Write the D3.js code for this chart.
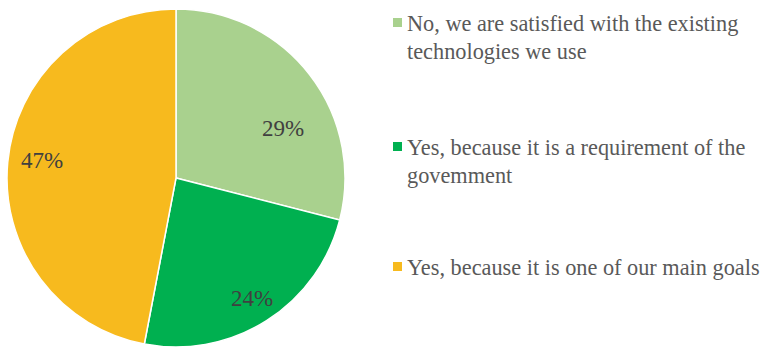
<!DOCTYPE html>
<html><head><meta charset="utf-8">
<script src="https://cdn.jsdelivr.net/npm/d3@7"></script>
<style>body{margin:0;background:#fff}svg{display:block}text,tspan{font-family:"Liberation Serif","Times New Roman",serif}</style>
</head><body>
<svg id="c" width="765" height="347"></svg>
<script>
const categories = [
  ["No, we are satisfied with the existing", "technologies we use"],
  ["Yes, because it is a requirement of the", "govemment"],
  ["Yes, because it is one of our main goals"]
];
const values = [29, 24, 47];
const labels = ["29%", "24%", "47%"];
const colors = ["#A9D18E", "#00B050", "#F7BA1E"];

const svg = d3.select("#c");
const cx = 176, cy = 178, r = 169;
const pie = d3.pie().sort(null).value(d => d);
const arcs = pie(values);
const arc = d3.arc().innerRadius(0).outerRadius(r);
const labelR = [0.70, 0.84, 0.80];
const labelShift = [0.22, 0, 0.04];

const g = svg.append("g").attr("transform", `translate(${cx},${cy})`);
g.selectAll("path").data(arcs).join("path")
  .attr("d", arc).attr("fill", (d, i) => colors[i])
  .attr("stroke", "#fff").attr("stroke-width", 1.5);

g.selectAll("text").data(arcs).join("text")
  .attr("transform", (d, i) => {
    const a = (d.startAngle + d.endAngle) / 2 + labelShift[i];
    const rr = r * labelR[i];
    return `translate(${rr * Math.sin(a)},${-rr * Math.cos(a)})`;
  })
  .attr("text-anchor", "middle").attr("dy", "0.35em")
  .style("font-size", "23px")
  .attr("fill", "#404040")
  .text((d, i) => labels[i]);

const legY = [31, 155, 275];
const leg = svg.append("g");
categories.forEach((lines, i) => {
  leg.append("rect").attr("x", 393).attr("y", legY[i] - 13).attr("width", 9).attr("height", 9)
    .attr("fill", colors[i]);
  const t = leg.append("text").attr("x", 407).attr("y", legY[i])
    .style("font-size", "22.3px")
    .attr("fill", "#595959");
  lines.forEach((l, j) => t.append("tspan").attr("x", 407).attr("dy", j ? 28 : 0).text(l));
});
</script>
</body></html>
